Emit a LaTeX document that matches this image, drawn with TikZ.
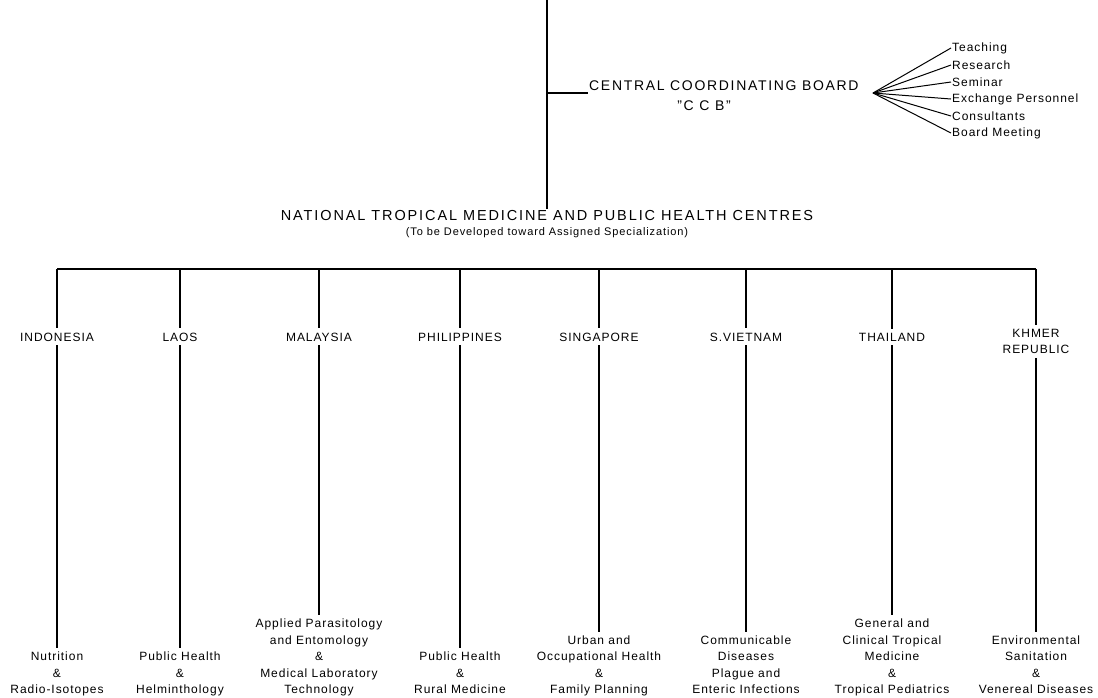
\documentclass[tikz,border=0pt]{standalone}
\usepackage{fontspec}
\setmainfont{Liberation Sans}
\newfontfamily\bigf[LetterSpace=13]{Liberation Sans}
\newfontfamily\ccbf[LetterSpace=12]{Liberation Sans}
\newfontfamily\smf[LetterSpace=8]{Liberation Sans}
\newfontfamily\subf[LetterSpace=8]{Liberation Sans}
\tikzset{
  conn/.style={line width=1.5pt, black},
  fan/.style={line width=1pt, black},
  bigtext/.style={font=\bigf\fontsize{14.5}{16}\selectfont, inner sep=1pt},
  ccbtext/.style={font=\ccbf\fontsize{14}{16}\selectfont, inner sep=1pt},
  subtext/.style={font=\subf\fontsize{11}{13}\selectfont, inner sep=1pt},
  smtext/.style={font=\smf\fontsize{12}{16.5}\selectfont, inner sep=1pt, align=center},
  ctext/.style={font=\smf\fontsize{12}{16}\selectfont, inner sep=4pt, align=center},
}
\begin{document}
\begin{tikzpicture}[x=1pt,y=-1pt]
\useasboundingbox (0,0) rectangle (1098,697);

% trunk and CCB
\coordinate (top) at (547,0);
\coordinate (jccb) at (547,93);
\node[ccbtext, anchor=base west] (ccb) at (588,90) {CENTRAL COORDINATING BOARD};
\node[ccbtext, anchor=base] (ccbq) at (704,110) {”C C B”};
\draw[conn] (jccb) -- (jccb -| ccb.west);

% fan
\coordinate (apex) at (873,93);
\node[smtext, anchor=west] (f1) at (951,48) {Teaching};
\node[smtext, anchor=west] (f2) at (951,65) {Research};
\node[smtext, anchor=west] (f3) at (951,82) {Seminar};
\node[smtext, anchor=west] (f4) at (951,99) {Exchange Personnel};
\node[smtext, anchor=west] (f5) at (951,116) {Consultants};
\node[smtext, anchor=west] (f6) at (951,133) {Board Meeting};
\foreach \f in {f1,f2,f3,f4,f5,f6} \draw[fan] (apex) -- (\f.west);

% national centres
\node[bigtext, anchor=base] (nat) at (547,220) {NATIONAL TROPICAL MEDICINE AND PUBLIC HEALTH CENTRES};
\node[subtext, anchor=base] (natsub) at (547,235) {(To be Developed toward Assigned Specialization)};
\draw[conn] (top) -- (nat.north -| top);

% bar
\coordinate (b1) at (57,269);
\coordinate (b2) at (180,269);
\coordinate (b3) at (319,269);
\coordinate (b4) at (460,269);
\coordinate (b5) at (599,269);
\coordinate (b6) at (746,269);
\coordinate (b7) at (892,269);
\coordinate (b8) at (1036,269);
\draw[conn] (b1) -- (b8);

% countries
\node[ctext, anchor=base] (c1) at (57,341) {INDONESIA};
\node[ctext, anchor=base] (c2) at (180,341) {LAOS};
\node[ctext, anchor=base] (c3) at (319,341) {MALAYSIA};
\node[ctext, anchor=base] (c4) at (460,341) {PHILIPPINES};
\node[ctext, anchor=base] (c5) at (599,341) {SINGAPORE};
\node[ctext, anchor=base] (c6) at (746,341) {S.VIETNAM};
\node[ctext, anchor=base] (c7) at (892,341) {THAILAND};
\node[ctext, anchor=north] (c8) at (1036,325) {KHMER\\REPUBLIC};

% specializations
\node[smtext, anchor=south] (s1) at (57,700) {\strut Nutrition\\\strut \&\\\strut Radio-Isotopes};
\node[smtext, anchor=south] (s2) at (180,700) {\strut Public Health\\\strut \&\\\strut Helminthology};
\node[smtext, anchor=south] (s3) at (319,700) {\strut Applied Parasitology\\\strut and Entomology\\\strut \&\\\strut Medical Laboratory\\\strut Technology};
\node[smtext, anchor=south] (s4) at (460,700) {\strut Public Health\\\strut \&\\\strut Rural Medicine};
\node[smtext, anchor=south] (s5) at (599,700) {\strut Urban and\\\strut Occupational Health\\\strut \&\\\strut Family Planning};
\node[smtext, anchor=south] (s6) at (746,700) {\strut Communicable\\\strut Diseases\\\strut Plague and\\\strut Enteric Infections};
\node[smtext, anchor=south] (s7) at (892,700) {\strut General and\\\strut Clinical Tropical\\\strut Medicine\\\strut \&\\\strut Tropical Pediatrics};
\node[smtext, anchor=south] (s8) at (1036,700) {\strut Environmental\\\strut Sanitation\\\strut \&\\\strut Venereal Diseases};

\foreach \i in {1,...,8} {
  \draw[conn] (b\i) -- (c\i.north);
  \draw[conn] (c\i.south) -- (s\i.north);
}
\end{tikzpicture}
\end{document}
